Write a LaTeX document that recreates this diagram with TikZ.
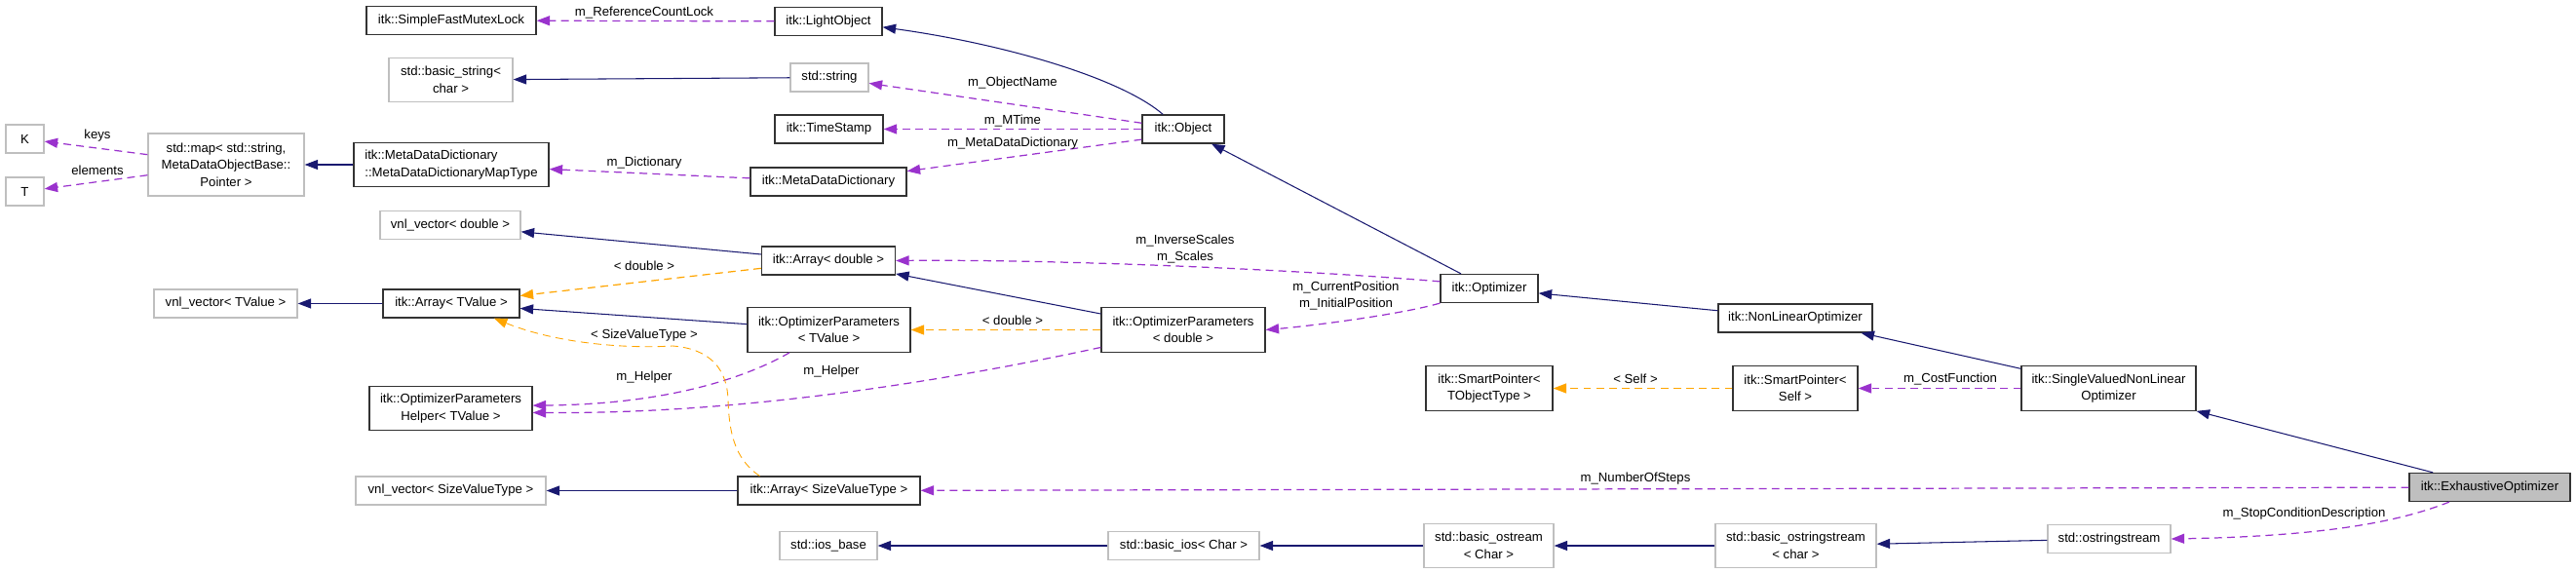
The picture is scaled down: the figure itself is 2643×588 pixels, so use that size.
\documentclass[tikz,border=0pt]{standalone}
\usepackage{fontspec}
\setmainfont{Liberation Sans}
\usetikzlibrary{arrows.meta}
\definecolor{inhcol}{HTML}{191970}
\definecolor{usecol}{HTML}{9A32CD}
\definecolor{tplcol}{HTML}{FFA500}
\definecolor{extcol}{HTML}{BFBFBF}

\begin{document}
\begin{tikzpicture}[x=0.02cm, y=-0.02cm,
    cls/.style={draw=black!80, line width=0.7pt, fill=white, inner sep=0pt,
      minimum height=0.58cm, align=center, font=\fontsize{7.5}{10}\selectfont},
    ext/.style={cls, draw=extcol},
    bw/.style={minimum width=#1*0.02cm},
    two/.style={minimum height=0.91cm},
    lbl/.style={inner sep=0pt, align=center, font=\fontsize{7.5}{10}\selectfont},
    inh/.style={draw=inhcol, line width=0.6pt, -{Triangle[length=0.27cm, width=0.2cm]}},
    usg/.style={draw=usecol, line width=0.7pt, dash pattern=on 4.5pt off 3pt,
      -{Triangle[length=0.27cm, width=0.2cm]}},
    tpl/.style={usg, draw=tplcol}]
    \useasboundingbox (0,0) rectangle (2643,588);
    % classes
    \node[cls, bw=174] (mutex) at (463,21) {itk::SimpleFastMutexLock};
    \node[cls, bw=110] (light) at (850,22) {itk::LightObject};
    \node[ext, bw=127, two] (bstring) at (462.5,82) {std::basic\_string<\\char >};
    \node[ext, bw=80] (string) at (851,79.5) {std::string};
    \node[cls, bw=111] (tstamp) at (850.5,132.5) {itk::TimeStamp};
    \node[cls, bw=160] (mdd) at (850,186.5) {itk::MetaDataDictionary};
    \node[cls, bw=84] (object) at (1214,132.5) {itk::Object};
    \node[ext, bw=39] (keyk) at (25.5,142.5) {K};
    \node[ext, bw=39] (keyt) at (25.5,196.5) {T};
    \node[ext, bw=160, minimum height=1.28cm] (map) at (232,169) {std::map< std::string,\\MetaDataObjectBase::\\Pointer >};
    \node[cls, bw=200, two, align=left] (mapt) at (463,169) {itk::MetaDataDictionary\\::MetaDataDictionaryMapType};
    \node[ext, bw=144] (vnld) at (462,231) {vnl\_vector< double >};
    \node[cls, bw=137] (arrd) at (850,267.5) {itk::Array< double >};
    \node[cls, bw=100] (optim) at (1528,296) {itk::Optimizer};
    \node[ext, bw=147] (vnlt) at (231.5,311.5) {vnl\_vector< TValue >};
    \node[cls, bw=140] (arrt) at (463,311.5) {itk::Array< TValue >};
    \node[cls, bw=167, two] (helper) at (462.5,419) {itk::OptimizerParameters\\Helper< TValue >};
    \node[ext, bw=195] (vnls) at (462.5,503.5) {vnl\_vector< SizeValueType >};
    \node[cls, bw=167, two] (opt) at (850.5,338.5) {itk::OptimizerParameters\\< TValue >};
    \node[cls, bw=168, two] (optd) at (1214,338.5) {itk::OptimizerParameters\\< double >};
    \node[cls, bw=187] (arrs) at (850.5,503.5) {itk::Array< SizeValueType >};
    \node[ext, bw=100] (iosb) at (850,560) {std::ios\_base};
    \node[ext, bw=155] (bios) at (1214.5,560) {std::basic\_ios< Char >};
    \node[ext, bw=133, two] (bos) at (1527.5,560) {std::basic\_ostream\\< Char >};
    \node[cls, bw=130, two] (spt) at (1528,398.5) {itk::SmartPointer<\\TObjectType >};
    \node[cls, bw=158] (nlo) at (1842,326.5) {itk::NonLinearOptimizer};
    \node[cls, bw=128, two] (sps) at (1842,398.5) {itk::SmartPointer<\\Self >};
    \node[cls, bw=179, two] (svnlo) at (2163.5,398.5) {itk::SingleValuedNonLinear\\Optimizer};
    \node[cls, bw=165, fill=extcol] (exh) at (2554.5,500) {itk::ExhaustiveOptimizer};
    \node[ext, bw=165, two] (bostr) at (1842.5,560) {std::basic\_ostringstream\\< char >};
    \node[ext, bw=126] (ostr) at (2164,553) {std::ostringstream};
    % inheritance
    \draw[inh] (object.144) .. controls (1150,80) and (1030,45) .. (light.-6);
    \draw[inh] (string) -- (bstring);
    \draw[inh] (mapt) -- (map);
    \draw[inh] (arrd) -- (vnld);
    \draw[inh] (optim) -- (object);
    \draw[inh] (arrt) -- (vnlt);
    \draw[inh] (optd) -- (arrd);
    \draw[inh] (opt) -- (arrt);
    \draw[inh] (arrs) -- (vnls);
    \draw[inh] (nlo) -- (optim);
    \draw[inh] (svnlo) -- (nlo);
    \draw[inh] (exh) -- (svnlo);
    \draw[inh] (ostr) -- (bostr);
    \draw[inh] (bostr) -- (bos);
    \draw[inh] (bos) -- (bios);
    \draw[inh] (bios) -- (iosb);
    % members
    \draw[usg] (light) -- (mutex);
    \draw[usg] (object) -- (string);
    \draw[usg] (object) -- (tstamp);
    \draw[usg] (object.194) -- (mdd);
    \draw[usg] (mdd) -- (mapt);
    \draw[usg] (map) -- (keyk);
    \draw[usg] (map) -- (keyt);
    \draw[usg] (optim.172) .. controls (1350,278) and (1100,266) .. (arrd.east);
    \draw[usg] (optim.south west) .. controls (1440,322) and (1350,334) .. (optd.east);
    \draw[usg] (opt.210) .. controls (770,385) and (690,415) .. (helper.2);
    \draw[usg] (optd.192) .. controls (950,395) and (750,425) .. (helper.-3);
    \draw[usg] (svnlo) -- (sps);
    \draw[usg] (exh) -- (arrs);
    \draw[usg] (exh.200.5) .. controls (2470,532) and (2400,550) .. (ostr.east);
    % templates
    \draw[tpl] (arrd) -- (arrt);
    \draw[tpl] (optd) -- (opt);
    \draw[tpl] (sps) -- (spt);
    \draw[tpl, line width=0.5pt] (arrs.168) .. controls (752,470) and (748,440) .. (747,410)
      .. controls (746,380) and (730,358) .. (690,355)
      .. controls (640,358) and (570,352) .. (arrt.-19);
    % labels
    \node[lbl] (lref) at (661,13) {m\_ReferenceCountLock};
    \node[lbl] (lname) at (1039,85) {m\_ObjectName};
    \node[lbl] (ltime) at (1039,124) {m\_MTime};
    \node[lbl] (lmdd) at (1039,147) {m\_MetaDataDictionary};
    \node[lbl] (ldict) at (661,167) {m\_Dictionary};
    \node[lbl] (lkeys) at (100,139) {keys};
    \node[lbl] (lelem) at (100,175) {elements};
    \node[lbl] (lscales) at (1216,255.5) {m\_InverseScales\\m\_Scales};
    \node[lbl] (lpos) at (1381,303.5) {m\_CurrentPosition\\m\_InitialPosition};
    \node[lbl] (ldbla) at (661,273) {< double >};
    \node[lbl] (ldblb) at (1039,329) {< double >};
    \node[lbl] (lsize) at (661,344) {< SizeValueType >};
    \node[lbl] (lhelpa) at (661,387) {m\_Helper};
    \node[lbl] (lhelpb) at (853,381) {m\_Helper};
    \node[lbl] (lself) at (1678,389) {< Self >};
    \node[lbl] (lcost) at (2001,389) {m\_CostFunction};
    \node[lbl] (lsteps) at (1678,491) {m\_NumberOfSteps};
    \node[lbl] (lstop) at (2364,527) {m\_StopConditionDescription};
\end{tikzpicture}
\end{document}
